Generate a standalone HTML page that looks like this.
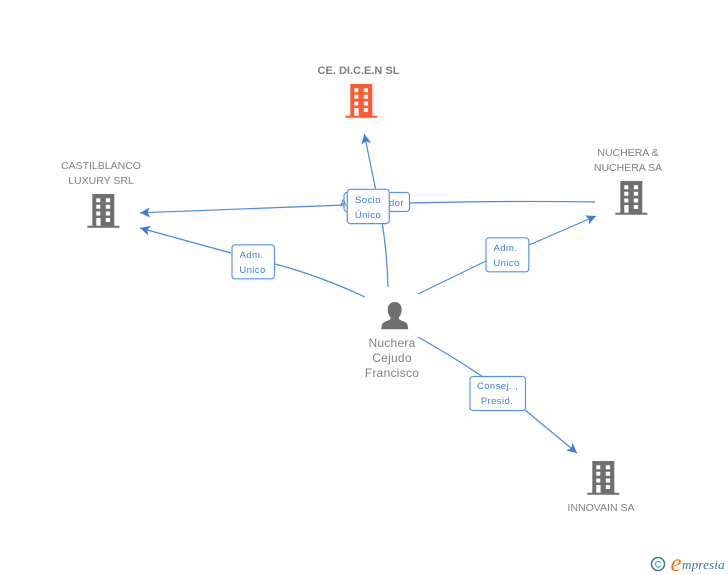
<!DOCTYPE html>
<html>
<head>
<meta charset="utf-8">
<style>
html,body{margin:0;padding:0;background:#fff}
svg{display:block}
text{font-family:"Liberation Sans",sans-serif}
.n{font-size:10.5px;fill:#808080;text-anchor:middle}
.p{font-size:12px;fill:#808080;text-anchor:middle;letter-spacing:.25px}
.l{font-size:9.5px;fill:#3a7fe0;text-anchor:middle;letter-spacing:.4px}
.e{fill:none;stroke:#4a88e4;stroke-width:1.2}
.b{fill:#fff;stroke:#5a94e8;stroke-width:1.2}
</style>
</head>
<body>
<svg xmlns="http://www.w3.org/2000/svg" width="728" height="575" viewBox="0 0 728 575">
<defs>
<g id="bld">
<path d="M5 0H27V31.700H32V33.700H0V31.700H5Z M9 4.300V8.300H13V4.300Z M18.500 4.300V8.300H22.800V4.300Z M9 10.800V14.800H13V10.800Z M18.500 10.800V14.800H22.800V10.800Z M9 17.500V21.500H13V17.500Z M18.500 17.500V21.500H22.800V17.500Z M9 24V31.700H13.300V24Z M18.500 24V28H22.800V24Z" fill-rule="evenodd"/>
</g>
<marker id="a" markerWidth="12" markerHeight="12" refX="10" refY="5" orient="auto" markerUnits="userSpaceOnUse">
<path d="M0 0L10 5L0 10L2.500 5Z" fill="#3a7fe0"/>
</marker>
</defs>

<!-- connectors -->
<path class="e" d="M388 287Q387 240 376 191L364.300 134" marker-end="url(#a)"/>
<path class="e" d="M595 202Q480 200 345 205L140 212.800" marker-end="url(#a)"/>
<path class="e" d="M365 297Q320 276 275 264M231 253L140 228" marker-end="url(#a)"/>
<path class="e" d="M418 294L486 261M529 245L596 216" marker-end="url(#a)"/>
<path class="e" d="M418 337Q455 358 483 377M525 410L577 453" marker-end="url(#a)"/>

<!-- nodes -->
<use href="#bld" x="345.300" y="84" fill="#ff5a30"/>
<use href="#bld" x="87.300" y="194" fill="#6f6f6f"/>
<use href="#bld" x="615.300" y="181" fill="#6f6f6f"/>
<use href="#bld" x="587.300" y="461" fill="#6f6f6f"/>

<path fill="#6f6f6f" d="M394.700 302c-4.300 0-7 3.200-7 7.600 0 3.100 1 5.700 2.700 7.400 .3 1.300 0 2.300-1 3-2.700 1.200-6.100 1.800-7.200 4.100-.5 1.400-.8 3.300-1 5.200h27c-.1-1.900-.4-3.800-1-5.200-1.100-2.300-4.500-2.900-7.200-4.100-1-.7-1.300-1.700-1-3 1.700-1.700 2.700-4.300 2.700-7.400 0-4.400-2.700-7.600-7-7.600z"/>

<!-- node labels -->
<text x="358.500" y="74" style="font-size:11px;font-weight:bold;fill:#808080;text-anchor:middle">CE. DI.C.E.N SL</text>
<text class="n" x="101" y="169">CASTILBLANCO</text>
<text class="n" x="101" y="184">LUXURY SRL</text>
<text class="n" x="628" y="156">NUCHERA &amp;</text>
<text class="n" x="628" y="171">NUCHERA SA</text>
<text class="n" x="601" y="511">INNOVAIN SA</text>
<text class="p" x="392" y="347">Nuchera</text>
<text class="p" x="392" y="362">Cejudo</text>
<text class="p" x="392" y="377">Francisco</text>

<!-- edge labels -->
<rect class="b" x="344" y="192.500" width="65.500" height="19" rx="3"/>
<text class="l" x="372" y="206">Administrador</text>
<rect class="b" x="347.300" y="189.300" width="42" height="34.300" rx="3"/>
<text class="l" x="368" y="203">Socio</text>
<text class="l" x="368" y="218">Único</text>

<rect class="b" x="232" y="244.800" width="42.500" height="34" rx="3"/>
<text class="l" x="251.500" y="258">Adm.</text>
<text class="l" x="252.500" y="273">Unico</text>

<rect class="b" x="486" y="237.800" width="42.800" height="34" rx="3"/>
<text class="l" x="505.500" y="251">Adm.</text>
<text class="l" x="506.500" y="266">Unico</text>

<rect class="b" x="470" y="376.500" width="55.500" height="34" rx="3"/>
<text class="l" x="497.500" y="389">Consej. ,</text>
<text class="l" x="497" y="404">Presid.</text>

<!-- logo -->
<circle cx="658" cy="564" r="6.500" fill="none" stroke="#2f7c8c" stroke-width="1.500"/>
<text x="658" y="567.500" style="font-size:9px;fill:#2f7c8c;text-anchor:middle">C</text>
<text x="670.500" y="571" style="font-family:'Liberation Serif',serif;font-style:italic;font-size:25px;fill:#f07a10">e</text>
<text x="682" y="569" style="font-family:'Liberation Serif',serif;font-style:italic;font-size:13px;fill:#2f7c8c;letter-spacing:.2px">mpresia</text>
</svg>
</body>
</html>
